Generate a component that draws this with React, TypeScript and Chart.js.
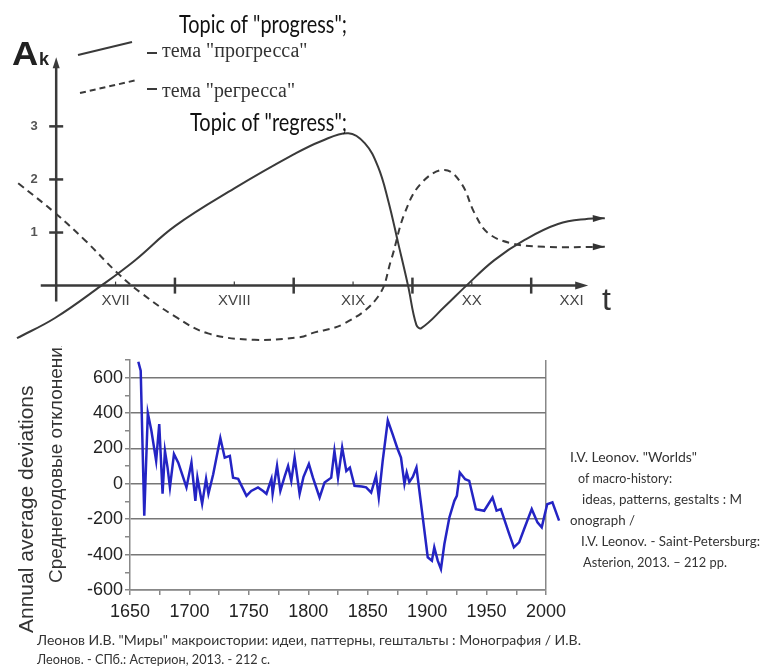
import React, { useEffect, useRef } from "react";
import { Chart, registerables } from "chart.js";
Chart.register(...registerables);

// ---- Top schematic: topics of "progress" and "regress" ----
const progressYears = [1567, 1599, 1638, 1666, 1700, 1750, 1800, 1823, 1846, 1860, 1871, 1879.5, 1888, 1896.3, 1903.3, 1907.5, 1927, 1945.4, 1969, 1994.5, 2022.6, 2048, 2062];
const progressValues = [-0.99, -0.61, 0, 0.47, 1.12, 1.83, 2.47, 2.72, 2.87, 2.68, 2.24, 1.61, 0.8, 0, -0.74, -0.8, -0.4, 0, 0.48, 0.86, 1.16, 1.26, 1.27];
const regressYears = [1568, 1599.5, 1624, 1652, 1671.6, 1700, 1727.8, 1767, 1806, 1815, 1843, 1871, 1882, 1893.4, 1907.5, 1927, 1941, 1952.4, 1963.7, 1983, 2011, 2062];
const regressValues = [1.93, 1.36, 0.86, 0.23, -0.14, -0.58, -0.9, -1.02, -0.97, -0.9, -0.71, -0.21, 0.48, 1.36, 1.93, 2.18, 1.93, 1.36, 0.99, 0.8, 0.73, 0.73];
const centuryLabels = ["XVII", "XVIII", "XIX", "XX", "XXI"];
const centuryLabelYears = [1650, 1750, 1850, 1950, 2034];
const centuryBoundaryYears = [1700, 1800, 1900, 2000];
const akTicks = [1, 2, 3];

// ---- Bottom chart: annual average deviations ----
const devYears = [1657, 1659, 1662, 1665, 1668, 1672, 1674.6, 1677.4, 1679.4, 1681.6, 1683.6, 1687, 1690.6, 1694.8, 1697.5, 1701.7, 1705, 1706.7, 1710.7, 1714, 1716, 1720, 1726, 1729.7, 1734, 1736.7, 1741, 1748, 1752, 1757.7, 1762, 1764.8, 1769, 1770, 1773.7, 1776.5, 1780, 1783, 1785.7, 1788.5, 1792.7, 1796, 1800.5, 1803.9, 1809.5, 1813.7, 1819.3, 1822, 1825, 1828.5, 1832, 1835, 1838.9, 1845, 1848.7, 1852.9, 1857, 1859.3, 1862.6, 1866.9, 1871, 1875, 1878, 1880.9, 1882.8, 1885, 1888, 1891, 1896.3, 1900.5, 1904, 1906, 1908.9, 1911.6, 1914.5, 1918.7, 1922.9, 1925, 1927.5, 1932, 1935.4, 1941, 1948, 1955, 1958.4, 1962, 1969, 1973, 1977.4, 1981.6, 1988, 1992.8, 1996.4, 2001, 2005.4, 2011];
const devValues = [690, 640, -180, 400, 300, 130, 338, -56, 186, 92, -20, 168, 120, 35, -20, 120, -96, 35, -113, 28, -56, 54, 259, 148, 158, 35, 28, -68, -40, -20, -40, -56, 28, -56, 101, -39, 40, 101, 17, 148, -56, 40, 112, 35, -77, 8, 35, 186, 35, 205, 73, 92, -11, -15, -20, -49, 45, -77, 130, 358, 280, 200, 148, 0, 64, 10, 40, 92, -190, -415, -434, -359, -434, -481, -340, -190, -96, -68, 64, 26, 17, -143, -152, -77, -152, -143, -283, -359, -331, -255, -143, -218, -246, -115, -105, -208];
const devXMin = 1650;
const devXMax = 2000;

const rightNote = [
  'I.V. Leonov. "Worlds"',
  ' of macro-history:',
  ' ideas, patterns, gestalts : M',
  'onograph /',
  ' I.V. Leonov. - Saint-Petersburg:',
  ' Asterion, 2013. \u2013 212 pp.',
];
const citation = [
  'Леонов И.В. "Миры" макроистории: идеи, паттерны, гештальты : Монография / И.В.',
  'Леонов. - СПб.: Астерион, 2013. - 212 с.',
];

function txt(ctx: CanvasRenderingContext2D, s: string, x: number, y: number, font: string, color: string, maxW?: number, align: CanvasTextAlign = "left", base: CanvasTextBaseline = "alphabetic") {
  ctx.font = font;
  ctx.fillStyle = color;
  ctx.textAlign = align;
  ctx.textBaseline = base;
  if (maxW) ctx.fillText(s, x, y, maxW);
  else ctx.fillText(s, x, y);
}

function arrowHead(ctx: CanvasRenderingContext2D, tx: number, ty: number, ang: number, len: number, half: number) {
  ctx.beginPath();
  ctx.moveTo(tx, ty);
  ctx.lineTo(tx - len * Math.cos(ang) + half * Math.sin(ang), ty - len * Math.sin(ang) - half * Math.cos(ang));
  ctx.lineTo(tx - len * Math.cos(ang) - half * Math.sin(ang), ty - len * Math.sin(ang) + half * Math.cos(ang));
  ctx.closePath();
  ctx.fill();
}

const topDecor = {
  id: "topDecor",
  afterDatasetsDraw(chart: any) {
    const { ctx, scales } = chart;
    const x = scales.x, y = scales.y;
    const ink = "#3a3a3a";
    ctx.save();
    ctx.strokeStyle = ink;
    ctx.fillStyle = ink;
    ctx.lineCap = "butt";
    const x0 = x.getPixelForValue(1600);
    const y0 = y.getPixelForValue(0);
    // x axis
    const xa = x.getPixelForValue(1587), xb = x.getPixelForValue(2048);
    ctx.lineWidth = 2.5;
    ctx.beginPath(); ctx.moveTo(xa, y0); ctx.lineTo(xb - 6, y0); ctx.stroke();
    arrowHead(ctx, xb, y0, 0, 13, 4);
    // y axis
    const yb = y.getPixelForValue(-0.3), yt = y.getPixelForValue(4.3);
    ctx.beginPath(); ctx.moveTo(x0, yb); ctx.lineTo(x0, yt + 6); ctx.stroke();
    arrowHead(ctx, x0, yt, -Math.PI / 2, 11, 3.5);
    // century boundary ticks
    ctx.lineWidth = 2.5;
    centuryBoundaryYears.forEach((yr) => {
      const px = x.getPixelForValue(yr);
      ctx.beginPath(); ctx.moveTo(px, y0 - 8); ctx.lineTo(px, y0 + 8); ctx.stroke();
    });
    ctx.lineWidth = 1.2;
    centuryLabelYears.slice(0, 4).forEach((yr) => {
      const px = x.getPixelForValue(yr);
      ctx.beginPath(); ctx.moveTo(px, y0 - 4); ctx.lineTo(px, y0); ctx.stroke();
    });
    centuryLabels.forEach((lab, i) => {
      const px = x.getPixelForValue(centuryLabelYears[i]);
      txt(ctx, lab, px, y0 + 15, '15px "Liberation Sans"', "#444", undefined, "center", "middle");
    });
    // y ticks
    ctx.lineWidth = 2.5;
    akTicks.forEach((v) => {
      const py = y.getPixelForValue(v);
      ctx.beginPath(); ctx.moveTo(x0 - 7, py); ctx.lineTo(x0 + 7, py); ctx.stroke();
      txt(ctx, String(v), x0 - 22, py, 'bold 13px "Liberation Sans"', "#555", undefined, "center", "middle");
    });
    // axis names
    ctx.save();
    ctx.translate(12, 65);
    ctx.scale(1.1, 1);
    txt(ctx, "A", 0, 0, 'bold 33px "Liberation Sans"', "#222");
    ctx.restore();
    txt(ctx, "k", 39, 65, 'bold 18px "Liberation Sans"', "#222");
    txt(ctx, "t", 602, 310, '32px "Liberation Sans"', "#333");
    // curve arrowheads
    [0, 1].forEach((i) => {
      const pts = chart.getDatasetMeta(i).data;
      const a = pts[pts.length - 2], b = pts[pts.length - 1];
      const ang = Math.atan2(b.y - a.y, b.x - a.x);
      arrowHead(ctx, b.x, b.y, ang, 12, 3.5);
    });
    // legend
    ctx.lineWidth = 2;
    ctx.beginPath(); ctx.moveTo(78, 55); ctx.lineTo(132, 42); ctx.stroke();
    ctx.setLineDash([6, 4]);
    ctx.beginPath(); ctx.moveTo(80, 93); ctx.lineTo(137, 80); ctx.stroke();
    ctx.setLineDash([]);
    ctx.beginPath(); ctx.moveTo(147, 53); ctx.lineTo(157, 53); ctx.stroke();
    ctx.beginPath(); ctx.moveTo(147, 89); ctx.lineTo(157, 89); ctx.stroke();
    txt(ctx, 'тема "прогресса"', 162, 57, '20px "Liberation Serif"', "#333", 153);
    txt(ctx, 'тема "регресса"', 162, 97, '20px "Liberation Serif"', "#333", 133);
    txt(ctx, 'Topic of "progress";', 179, 33, '25px Lato', "#111", 168);
    txt(ctx, 'Topic of "regress";', 190, 131, '25px Lato', "#111", 157);
    ctx.restore();
  },
};

const bottomDecor = {
  id: "bottomDecor",
  afterDraw(chart: any) {
    const ctx: CanvasRenderingContext2D = chart.ctx;
    ctx.save();
    // y titles (canvas top is page y=340)
    ctx.save();
    ctx.translate(27, 633 - 340);
    ctx.rotate(-Math.PI / 2);
    txt(ctx, "Annual average deviations", 0, 0, '21px "Liberation Sans"', "#333", 283, "left", "middle");
    ctx.restore();
    ctx.save();
    ctx.beginPath(); ctx.rect(0, 6, 130, 400); ctx.clip();
    ctx.translate(57, 583 - 340);
    ctx.rotate(-Math.PI / 2);
    txt(ctx, "Среднегодовые отклонения", 0, 0, '19px "Liberation Sans"', "#333", 262, "left", "middle");
    ctx.restore();
    // right note
    const noteX = [570, 578, 582, 570, 581, 583];
    const noteW = [133, 94, 160, 65, 179, 144];
    rightNote.forEach((s, i) => {
      txt(ctx, s.trim(), noteX[i], 462 - 340 + i * 21, '14px Lato', "#333", noteW[i]);
    });
    // citation
    txt(ctx, citation[0], 37, 645 - 340, '14px Lato', "#333", 626);
    txt(ctx, citation[1], 37, 664 - 340, '14px Lato', "#333", 233);
    ctx.restore();
  },
};

export default function App() {
  const topRef = useRef<HTMLCanvasElement>(null);
  const botRef = useRef<HTMLCanvasElement>(null);

  useEffect(() => {
    const top = new Chart(topRef.current!, {
      type: "line",
      data: {
        datasets: [
          {
            label: "progress",
            data: progressYears.map((yr, i) => ({ x: yr, y: progressValues[i] })),
            borderColor: "#3a3a3a",
            borderWidth: 2,
            pointRadius: 0,
            tension: 0.4,
            clip: false as any,
          },
          {
            label: "regress",
            data: regressYears.map((yr, i) => ({ x: yr, y: regressValues[i] })),
            borderColor: "#3a3a3a",
            borderWidth: 2,
            borderDash: [7, 5],
            pointRadius: 0,
            tension: 0.4,
            clip: false as any,
          },
        ],
      },
      options: {
        animation: false,
        responsive: false,
        devicePixelRatio: 1,
        layout: { padding: { left: 17, right: 156, top: 60, bottom: 6 } },
        plugins: { legend: { display: false }, tooltip: { enabled: false } },
        scales: {
          x: { type: "linear", min: 1567, max: 2063, display: false },
          y: { type: "linear", min: -1.1, max: 4.25, display: false },
        },
      },
      plugins: [topDecor],
    });

    const bot = new Chart(botRef.current!, {
      type: "line",
      data: {
        datasets: [
          {
            label: "deviations",
            data: devYears.map((yr, i) => ({ x: yr, y: devValues[i] })),
            borderColor: "#2424c4",
            borderWidth: 2.5,
            pointRadius: 0,
            tension: 0,
            clip: false as any,
          },
        ],
      },
      options: {
        animation: false,
        responsive: false,
        devicePixelRatio: 1,
        layout: { padding: { left: 0, right: 216, top: 20, bottom: 0 } },
        plugins: { legend: { display: false }, tooltip: { enabled: false } },
        scales: {
          x: {
            type: "linear",
            afterDataLimits: (s: any) => { s.min = devXMin; s.max = devXMax; },
            afterFit: (s: any) => { s.height = 76; },
            ticks: {
              stepSize: 25,
              autoSkip: false,
              maxRotation: 0,
              padding: 6,
              color: "#222",
              font: { family: "Liberation Sans", size: 18 },
              callback: (v: any) => (Number(v) % 50 === 0 ? String(v) : ""),
            },
            grid: {
              color: (c: any) => (c.tick && c.tick.value === devXMax ? "#888" : "transparent"),
              tickColor: "#888",
              tickLength: 5,
              lineWidth: 1.5,
            },
            border: { color: "#888", width: 1.5 },
          },
          y: {
            type: "linear",
            min: -600,
            max: 700,
            afterFit: (s: any) => { s.width = 130; },
            ticks: {
              stepSize: 100,
              autoSkip: false,
              padding: 2,
              color: "#222",
              font: { family: "Liberation Sans", size: 18 },
              callback: (v: any) => (Number(v) % 200 === 0 ? String(v) : ""),
            },
            grid: {
              color: (c: any) => (c.tick && Math.abs(c.tick.value % 200) === 0 ? "#777" : "transparent"),
              tickColor: "#888",
              tickLength: 5,
              lineWidth: 1.5,
            },
            border: { color: "#888", width: 1.5 },
          },
        },
      },
      plugins: [bottomDecor],
    });

    return () => {
      top.destroy();
      bot.destroy();
    };
  }, []);

  return (
    <div style={{ position: "absolute", left: 0, top: 0, width: 762, height: 666, background: "#fff", overflow: "hidden" }}>
      <canvas ref={topRef} width={762} height={350} style={{ position: "absolute", left: 0, top: 0, width: 762, height: 350 }} />
      <canvas ref={botRef} width={762} height={326} style={{ position: "absolute", left: 0, top: 340, width: 762, height: 326 }} />
    </div>
  );
}
